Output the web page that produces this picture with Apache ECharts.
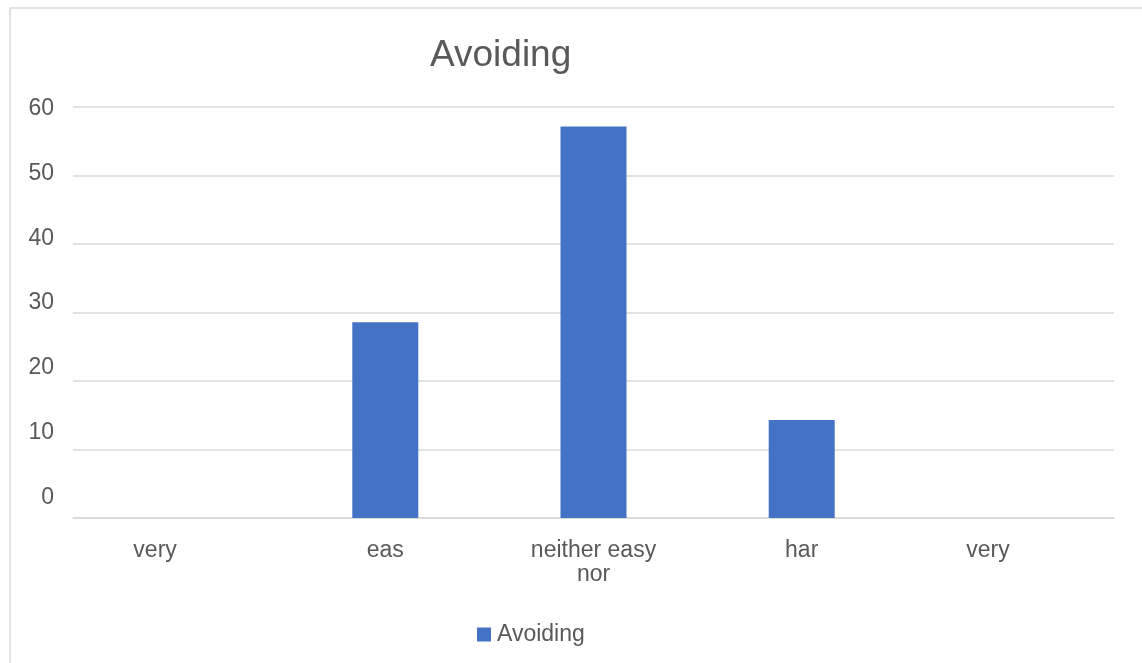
<!DOCTYPE html>
<html>
<head>
<meta charset="utf-8">
<title>Avoiding</title>
<script src="https://cdn.jsdelivr.net/npm/echarts@6/dist/echarts.min.js"></script>
<style>
html,body{margin:0;padding:0;background:#fff;overflow:hidden;}
#avoid{width:1142px;height:663px;}
</style>
</head>
<body>
<div id="avoid"></div>
<script>
// data
var categories = ['very', 'eas', 'neither easy\nnor', 'har', 'very'];
var avoidingVals = [0, 28.57, 57.14, 14.29, 0];
var yTickLabels = [0, 10, 20, 30, 40, 50, 60];

var txtColor = '#595959';
var fontName = 'Liberation Sans, Arial, sans-serif';

var chart = echarts.init(document.getElementById('avoid'));
chart.setOption({
	animation: false,
	textStyle: { fontFamily: fontName },
	title: {
		text: 'Avoiding',
		left: 425,
		top: 32,
		textStyle: { color: txtColor, fontSize: 37, fontWeight: 'normal', fontFamily: fontName }
	},
	//外框
	graphic: [{
		type: 'rect',
		shape: { x: 10, y: 8, width: 1200, height: 700 },
		style: { fill: 'none', stroke: '#d9d9d9', lineWidth: 1.5 },
		silent: true
	}],
	legend: {
		data: ['Avoiding'],
		left: 472,
		top: 618,
		itemWidth: 14,
		itemHeight: 14,
		icon: 'rect',
		textStyle: { color: txtColor, fontSize: 23, fontFamily: fontName, padding: [0, 0, 0, 1] }
	},
	grid: { left: 73, right: 28, top: 107, bottom: 145 },
	xAxis: {
		type: 'category',
		data: categories,
		axisLine: { lineStyle: { color: '#d9d9d9', width: 1.5 } },
		axisTick: { show: false },
		axisLabel: {
			color: txtColor,
			fontSize: 23,
			lineHeight: 24,
			margin: 21,
			interval: 0,
			formatter: function (val, idx) {
				if (idx == 0 || idx == categories.length - 1) {
					return '{edge|' + val + '}';
				}
				return val;
			},
			rich: {
				edge: { fontSize: 23, color: txtColor, padding: [0, 44, 0, 0], fontFamily: fontName }
			}
		}
	},
	yAxis: [
		{
			type: 'value',
			min: 0,
			max: 60,
			interval: 10,
			axisLine: { show: false },
			axisTick: { show: false },
			axisLabel: { show: false },
			splitLine: { lineStyle: { color: '#d9d9d9', width: 1.5 } }
		},
		{
			//刻度文字 (位置略微偏移)
			type: 'value',
			position: 'left',
			min: -3.2,
			max: 60.3,
			axisLine: { show: false },
			axisTick: { show: false },
			splitLine: { show: false },
			axisLabel: {
				customValues: yTickLabels,
				color: txtColor,
				fontSize: 23,
				margin: 19
			}
		}
	],
	series: [{
		name: 'Avoiding',
		type: 'bar',
		yAxisIndex: 0,
		barWidth: 66,
		itemStyle: { color: '#4472c4' },
		data: avoidingVals
	}]
});
</script>
</body>
</html>
